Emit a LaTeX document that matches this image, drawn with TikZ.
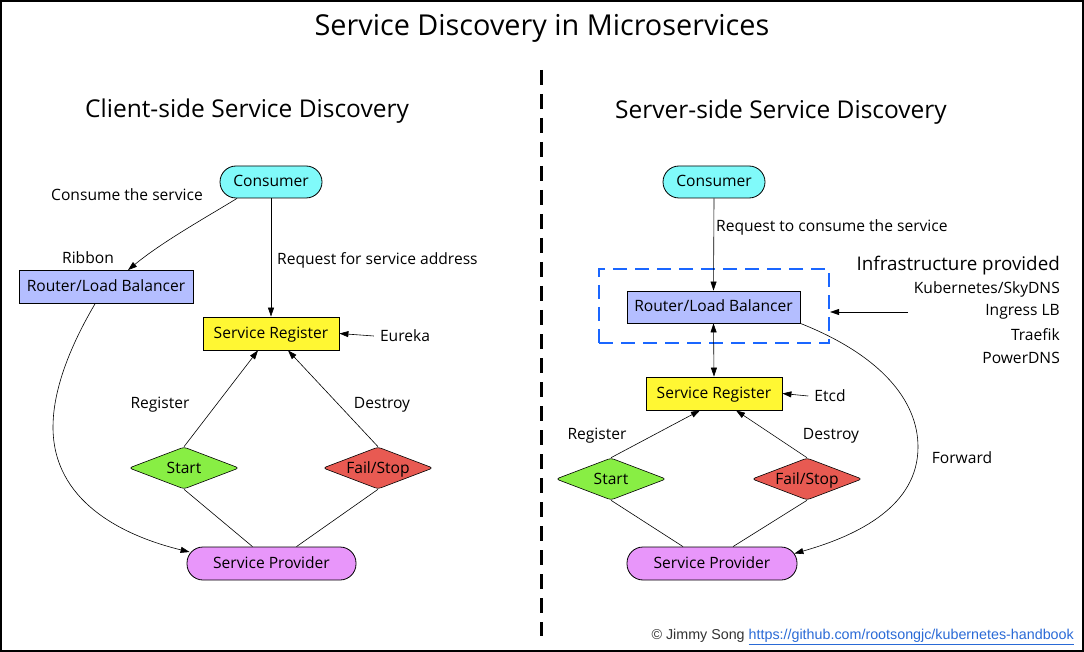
\documentclass[tikz,border=0pt]{standalone}
\usepackage{fontspec}
\setmainfont{Open Sans}
\newfontfamily\footfont{Liberation Sans}
\usetikzlibrary{arrows.meta,shapes.geometric}
\definecolor{consumerc}{HTML}{80FAFA}
\definecolor{routerc}{HTML}{B4BEFF}
\definecolor{regc}{HTML}{FFF733}
\definecolor{startc}{HTML}{88EE44}
\definecolor{failc}{HTML}{E85A52}
\definecolor{provc}{HTML}{E896FA}
\definecolor{dblue}{HTML}{1A66FF}
\definecolor{linkc}{HTML}{2A6AD6}
\definecolor{footgray}{HTML}{333333}
\newcommand{\nf}{\fontsize{15.6}{18}\selectfont}
\begin{document}
\begin{tikzpicture}[x=1pt,y=-1pt,
  box/.style={draw, line width=0.8pt, minimum height=33pt, inner sep=0pt, text height=10pt, text depth=0pt, font=\nf},
  stadium/.style={box, rounded corners=16pt},
  dia/.style={draw, line width=0.6pt, diamond, shape aspect=2.6, minimum width=110pt, minimum height=42pt, inner sep=0pt, text height=10pt, text depth=0pt, rounded corners=3pt, font=\nf},
  arr/.style={-{Triangle[length=9pt,width=6pt]}, line width=0.6pt},
  plain/.style={line width=0.6pt},
  lbl/.style={font=\nf, inner sep=0pt},
  head/.style={font=\fontsize{24.5}{28}\selectfont, inner sep=0pt}]
\useasboundingbox (0,0) rectangle (1084,652);
\draw[line width=2pt] (1,1) rectangle (1083,651);
\node[font=\fontsize{28.8}{32}\selectfont, inner sep=0pt] (title) at (542,28) {Service Discovery in Microservices};
\draw[line width=3pt, dash pattern=on 15pt off 9pt] (541,70) -- (541,636);
\node[head] (lhead) at (247,111) {Client-side Service Discovery};
\node[head] (rhead) at (781,112) {Server-side Service Discovery};
% ---------------- left ----------------
\node[stadium, fill=consumerc, minimum width=102pt, minimum height=32pt] (lc) at (271,182) {Consumer};
\node[box, fill=routerc, minimum width=174pt] (lr) at (106,287) {Router/Load Balancer};
\node[box, fill=regc, minimum width=136pt] (ls) at (271,333.5) {Service Register};
\node[dia, fill=startc] (lst) at (184,468) {Start};
\node[dia, fill=failc] (lf) at (378,468) {Fail/Stop};
\node[stadium, fill=provc, minimum width=169pt] (lp) at (271.5,563.5) {Service Provider};
\node[lbl] (lcons) at (127,195) {Consume the service};
\node[lbl] (lrib) at (88,258) {Ribbon};
\node[lbl, anchor=west] (lreq) at (277,260) {Request for service address};
\node[lbl] (lreg) at (160,405) {Register};
\node[lbl] (ldes) at (382,405) {Destroy};
\node[lbl] (eu) at (405,336) {Eureka};
\draw[arr] ([xshift=-34pt]lc.south) .. controls (205,218) and (162,242) .. ([xshift=22pt]lr.north);
\draw[arr] (lc.south) -- (ls.north);
\draw[arr] (lst.north) -- ([xshift=-13pt]ls.south);
\draw[arr] (lf.north) -- ([xshift=17pt]ls.south);
\draw[plain] (lst.south) -- ([xshift=-19pt]lp.north);
\draw[plain] (lf.south) -- ([xshift=25pt]lp.north);
\draw[arr] ([xshift=-6pt]eu.west) -- (ls.east);
\draw[arr] ([xshift=-11pt]lr.south) .. controls (62,360) and (53,400) .. (53,427) .. controls (53,500) and (120,535) .. ([xshift=3pt,yshift=11.5pt]lp.west);
% ---------------- right ----------------
\node[stadium, fill=consumerc, minimum width=102pt, minimum height=32pt] (rc) at (714,182) {Consumer};
\node[draw=dblue, line width=2.2pt, dash pattern=on 14pt off 8pt, minimum width=230pt, minimum height=74pt, inner sep=0pt] (infra) at (714,306) {};
\node[box, fill=routerc, minimum width=173pt, minimum height=32pt] (rr) at (713.5,307) {Router/Load Balancer};
\node[box, fill=regc, minimum width=136pt] (rs) at (714,393.5) {Service Register};
\node[dia, fill=startc] (rst) at (611,479) {Start};
\node[dia, fill=failc] (rf) at (807,479) {Fail/Stop};
\node[stadium, fill=provc, minimum width=170pt] (rp) at (712,563.5) {Service Provider};
\node[lbl, anchor=west] (rreq) at (716,227) {Request to consume the service};
\node[lbl] (rreg) at (597,436) {Register};
\node[lbl] (rdes) at (831,436) {Destroy};
\node[lbl] (fwd) at (962,458) {Forward};
\node[lbl] (etcd) at (830,396) {Etcd};
\node[lbl, anchor=east, font=\fontsize{18.8}{22}\selectfont] (infp) at (1060,266) {Infrastructure provided};
\node[lbl, anchor=east] (k8s) at (1060,289) {Kubernetes/SkyDNS};
\node[lbl, anchor=east] (ing) at (1060,312) {Ingress LB};
\node[lbl, anchor=east] (trf) at (1060,335) {Traefik};
\node[lbl, anchor=east] (pdns) at (1060,358) {PowerDNS};
\coordinate (ia) at (908,312);
\draw[arr] (ia) -- (ia -| infra.east);
\draw[arr] (rc.south) -- (rr.north);
\draw[{Triangle[length=9pt,width=6pt]}-{Triangle[length=9pt,width=6pt]}, line width=0.6pt] (rr.south) -- (rs.north);
\draw[arr] (rst.north) -- ([xshift=-14pt]rs.south);
\draw[arr] (rf.north) -- ([xshift=22pt]rs.south);
\draw[plain] (rst.south) -- ([xshift=-29pt]rp.north);
\draw[plain] (rf.south) -- ([xshift=21pt]rp.north);
\draw[arr] ([xshift=-6pt]etcd.west) -- (rs.east);
\draw[arr] (rr.south east) .. controls (880,355) and (918,400) .. (918,447) .. controls (918,505) and (860,535) .. ([xshift=-3pt,yshift=10pt]rp.east);
% footer
\node[anchor=east, inner sep=0pt, font=\footfont\fontsize{14.3}{16}\selectfont] (foot) at (1074,637) {\color{footgray}© Jimmy Song \color{linkc}\underline{https://github.com/rootsongjc/kubernetes-handbook}};
\end{tikzpicture}
\end{document}
